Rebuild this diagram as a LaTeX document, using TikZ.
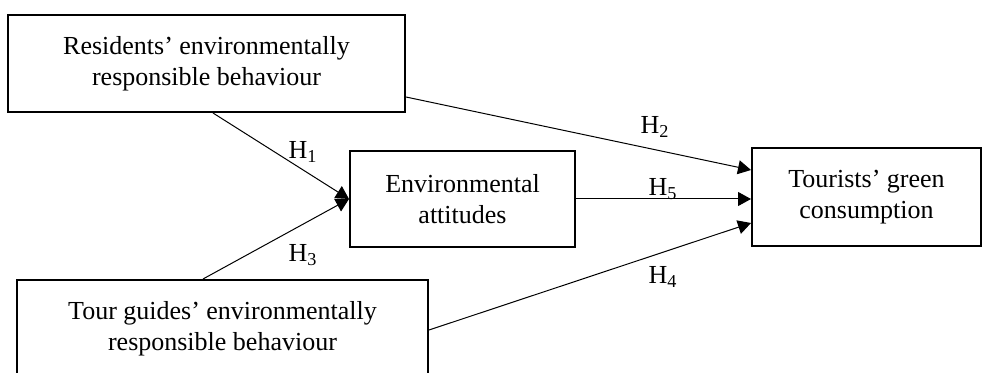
\documentclass[tikz,border=0pt]{standalone}
\usepackage{fontspec}
\setmainfont{Liberation Serif}
\usetikzlibrary{arrows.meta}

\tikzset{
    box/.style={rectangle, draw, line width=1pt, align=center, inner sep=0pt,
        font=\fontsize{13}{15.5}\selectfont},
    arr/.style={-{Triangle[length=6.5pt,width=7pt]}, line width=0.5pt},
    hyp/.style={font=\fontsize{13}{15.5}\selectfont, inner sep=0pt}
}

\begin{document}
\begin{tikzpicture}[x=0.5pt, y=-0.5pt]
        \path[use as bounding box, clip] (0,0) rectangle (983,373);
        % constructs
        \node [box, minimum width=198.5pt, minimum height=48.5pt] (r) at (206.5,63.5)
            {Residents’ environmentally\\responsible behaviour};
        \node [box, minimum width=112.5pt, minimum height=48pt] (e) at (462.5,199)
            {Environmental\\attitudes};
        \node [box, minimum width=114.5pt, minimum height=49pt] (g) at (866.5,197.5)
            {Tourists’ green\\consumption};
        \node [box, minimum width=205.5pt, minimum height=49pt] (t) at (222.5,329)
            {Tour guides’ environmentally\\responsible behaviour};
        % paths
        \draw [arr] ([xshift=3.25pt]r.south) -- (e.west);
        \draw [arr] ([xshift=-9.75pt]t.north) -- (e.west);
        \draw [arr] ([yshift=-16.75pt]r.east) -- ([yshift=13.75pt]g.west);
        \draw [arr] (e.east) -- (e.east -| g.west);
        \draw [arr] ([yshift=-0.5pt]t.east) -- ([yshift=-12.75pt]g.west);
        % hypotheses
        \node [hyp] (h1) at (303,152) {H\textsubscript{1}};
        \node [hyp] (h2) at (655,127) {H\textsubscript{2}};
        \node [hyp] (h3) at (303,255) {H\textsubscript{3}};
        \node [hyp] (h4) at (663,277) {H\textsubscript{4}};
        \node [hyp] (h5) at (663,189) {H\textsubscript{5}};
    \end{tikzpicture}
\end{document}
